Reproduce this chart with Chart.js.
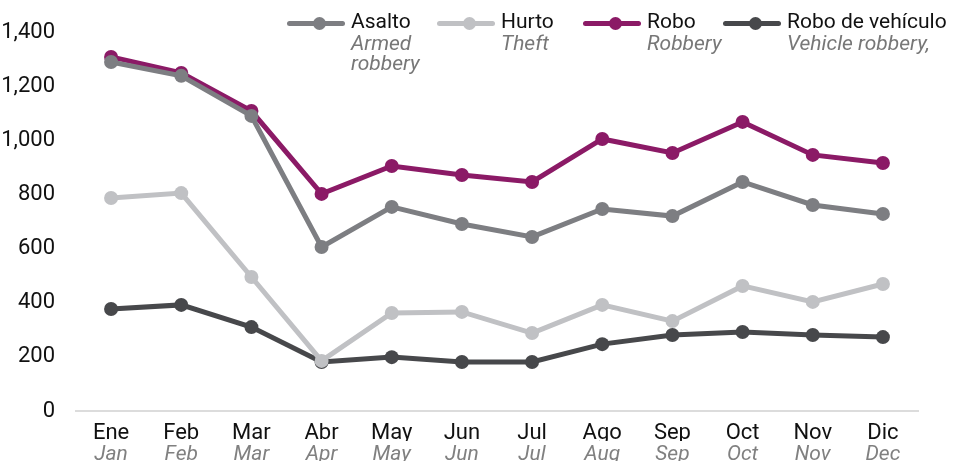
<!DOCTYPE html>
<html>
<head>
<meta charset="utf-8">
<script src="https://cdn.jsdelivr.net/npm/chart.js@4/dist/chart.umd.min.js"></script>
<style>
  body { margin: 0; background: #fff; font-family: Roboto, sans-serif; }
  #wrap { position: relative; width: 953px; height: 461px; }
  #legend { position: absolute; top: 0; left: 0; width: 953px; height: 75px; }
  .item { position: absolute; top: 0; }
  .sample { position: absolute; top: 21px; left: 0; width: 58px; height: 5px; border-radius: 3px; }
  .sample i { position: absolute; left: 26px; top: -4px; width: 13px; height: 13px; border-radius: 50%; background: inherit; }
  .txt { position: absolute; top: 9px; left: 64px; white-space: nowrap; }
  .es { font-size: 21px; color: #111; line-height: 24px; }
  .en { font-size: 21px; color: #777; font-style: italic; line-height: 20px; }
</style>
</head>
<body>
<div id="wrap">
  <canvas id="chart" width="953" height="461"></canvas>
  <div id="legend"></div>
</div>
<script>
// meses
var mesesES = ["Ene", "Feb", "Mar", "Abr", "May", "Jun", "Jul", "Ago", "Sep", "Oct", "Nov", "Dic"];
var mesesEN = ["Jan", "Feb", "Mar", "Apr", "May", "Jun", "Jul", "Aug", "Sep", "Oct", "Nov", "Dec"];

// series
var asalto = [1289, 1238, 1090, 606, 754, 691, 643, 746, 720, 846, 761, 728];
var hurto = [787, 805, 495, 185, 362, 366, 288, 392, 332, 462, 403, 469];
var robo = [1308, 1249, 1108, 802, 905, 872, 846, 1005, 953, 1068, 946, 916];
var roboVehiculo = [377, 392, 310, 181, 199, 181, 181, 247, 281, 292, 281, 273];

var yTicks = [0, 200, 400, 600, 800, 1000, 1200, 1400];

var series = [
  { es: "Asalto", en: ["Armed", "robbery"], data: asalto, color: "#7d7e82", left: 287 },
  { es: "Hurto", en: ["Theft"], data: hurto, color: "#c0c1c4", left: 437 },
  { es: "Robo de vehículo", en: ["Vehicle robbery,"], data: roboVehiculo, color: "#47484b", left: 723 },
  { es: "Robo", en: ["Robbery"], data: robo, color: "#8b1a66", left: 583 }
];

// legend (html so the two languages can be styled separately)
var html = "";
series.forEach(function (s) {
  html += "<div class='item' style='left:" + s.left + "px'>" +
    "<div class='sample' style='background:" + s.color + "'><i></i></div>" +
    "<div class='txt'><div class='es'>" + s.es + "</div>" +
    "<div class='en'>" + s.en.join("<br>") + "</div></div></div>";
});
document.getElementById("legend").innerHTML = html;

var datasets = series.map(function (s) {
  return {
    label: s.es,
    data: s.data,
    borderColor: s.color,
    backgroundColor: s.color,
    pointBackgroundColor: s.color,
    pointBorderWidth: 0,
    pointRadius: 7,
    borderWidth: 5,
    tension: 0
  };
});

new Chart(document.getElementById("chart"), {
  type: "line",
  data: { labels: mesesES, datasets: datasets },
  options: {
    responsive: false,
    animation: false,
    layout: { padding: { top: 32, right: 35, left: 0, bottom: 0 } },
    plugins: { legend: { display: false }, tooltip: { enabled: false } },
    scales: {
      x: {
        labels: mesesES,
        offset: true,
        grid: { display: false },
        border: { display: true, color: "#dcdcdc", width: 2 },
        ticks: { color: "#111", font: { family: "Roboto", size: 22 }, padding: 1, maxRotation: 0 },
        afterFit: function (axis) { axis.height = 30; }
      },
      x2: {
        type: "category",
        position: "bottom",
        labels: mesesEN,
        offset: true,
        grid: { display: false },
        border: { display: false },
        ticks: { color: "#808080", font: { family: "Roboto", size: 21, style: "italic" }, padding: -7, maxRotation: 0 },
        afterFit: function (axis) { axis.height = 20; }
      },
      y: {
        min: 0,
        max: 1400,
        afterBuildTicks: function (axis) {
          axis.ticks = yTicks.map(function (v) { return { value: v }; });
        },
        afterFit: function (axis) { axis.width = 76; },
        grid: { display: false },
        border: { display: false },
        ticks: {
          color: "#111",
          font: { family: "Roboto", size: 22 },
          padding: 13,
          callback: function (v) { return v.toLocaleString("en-US"); }
        }
      }
    }
  }
});
</script>
</body>
</html>
